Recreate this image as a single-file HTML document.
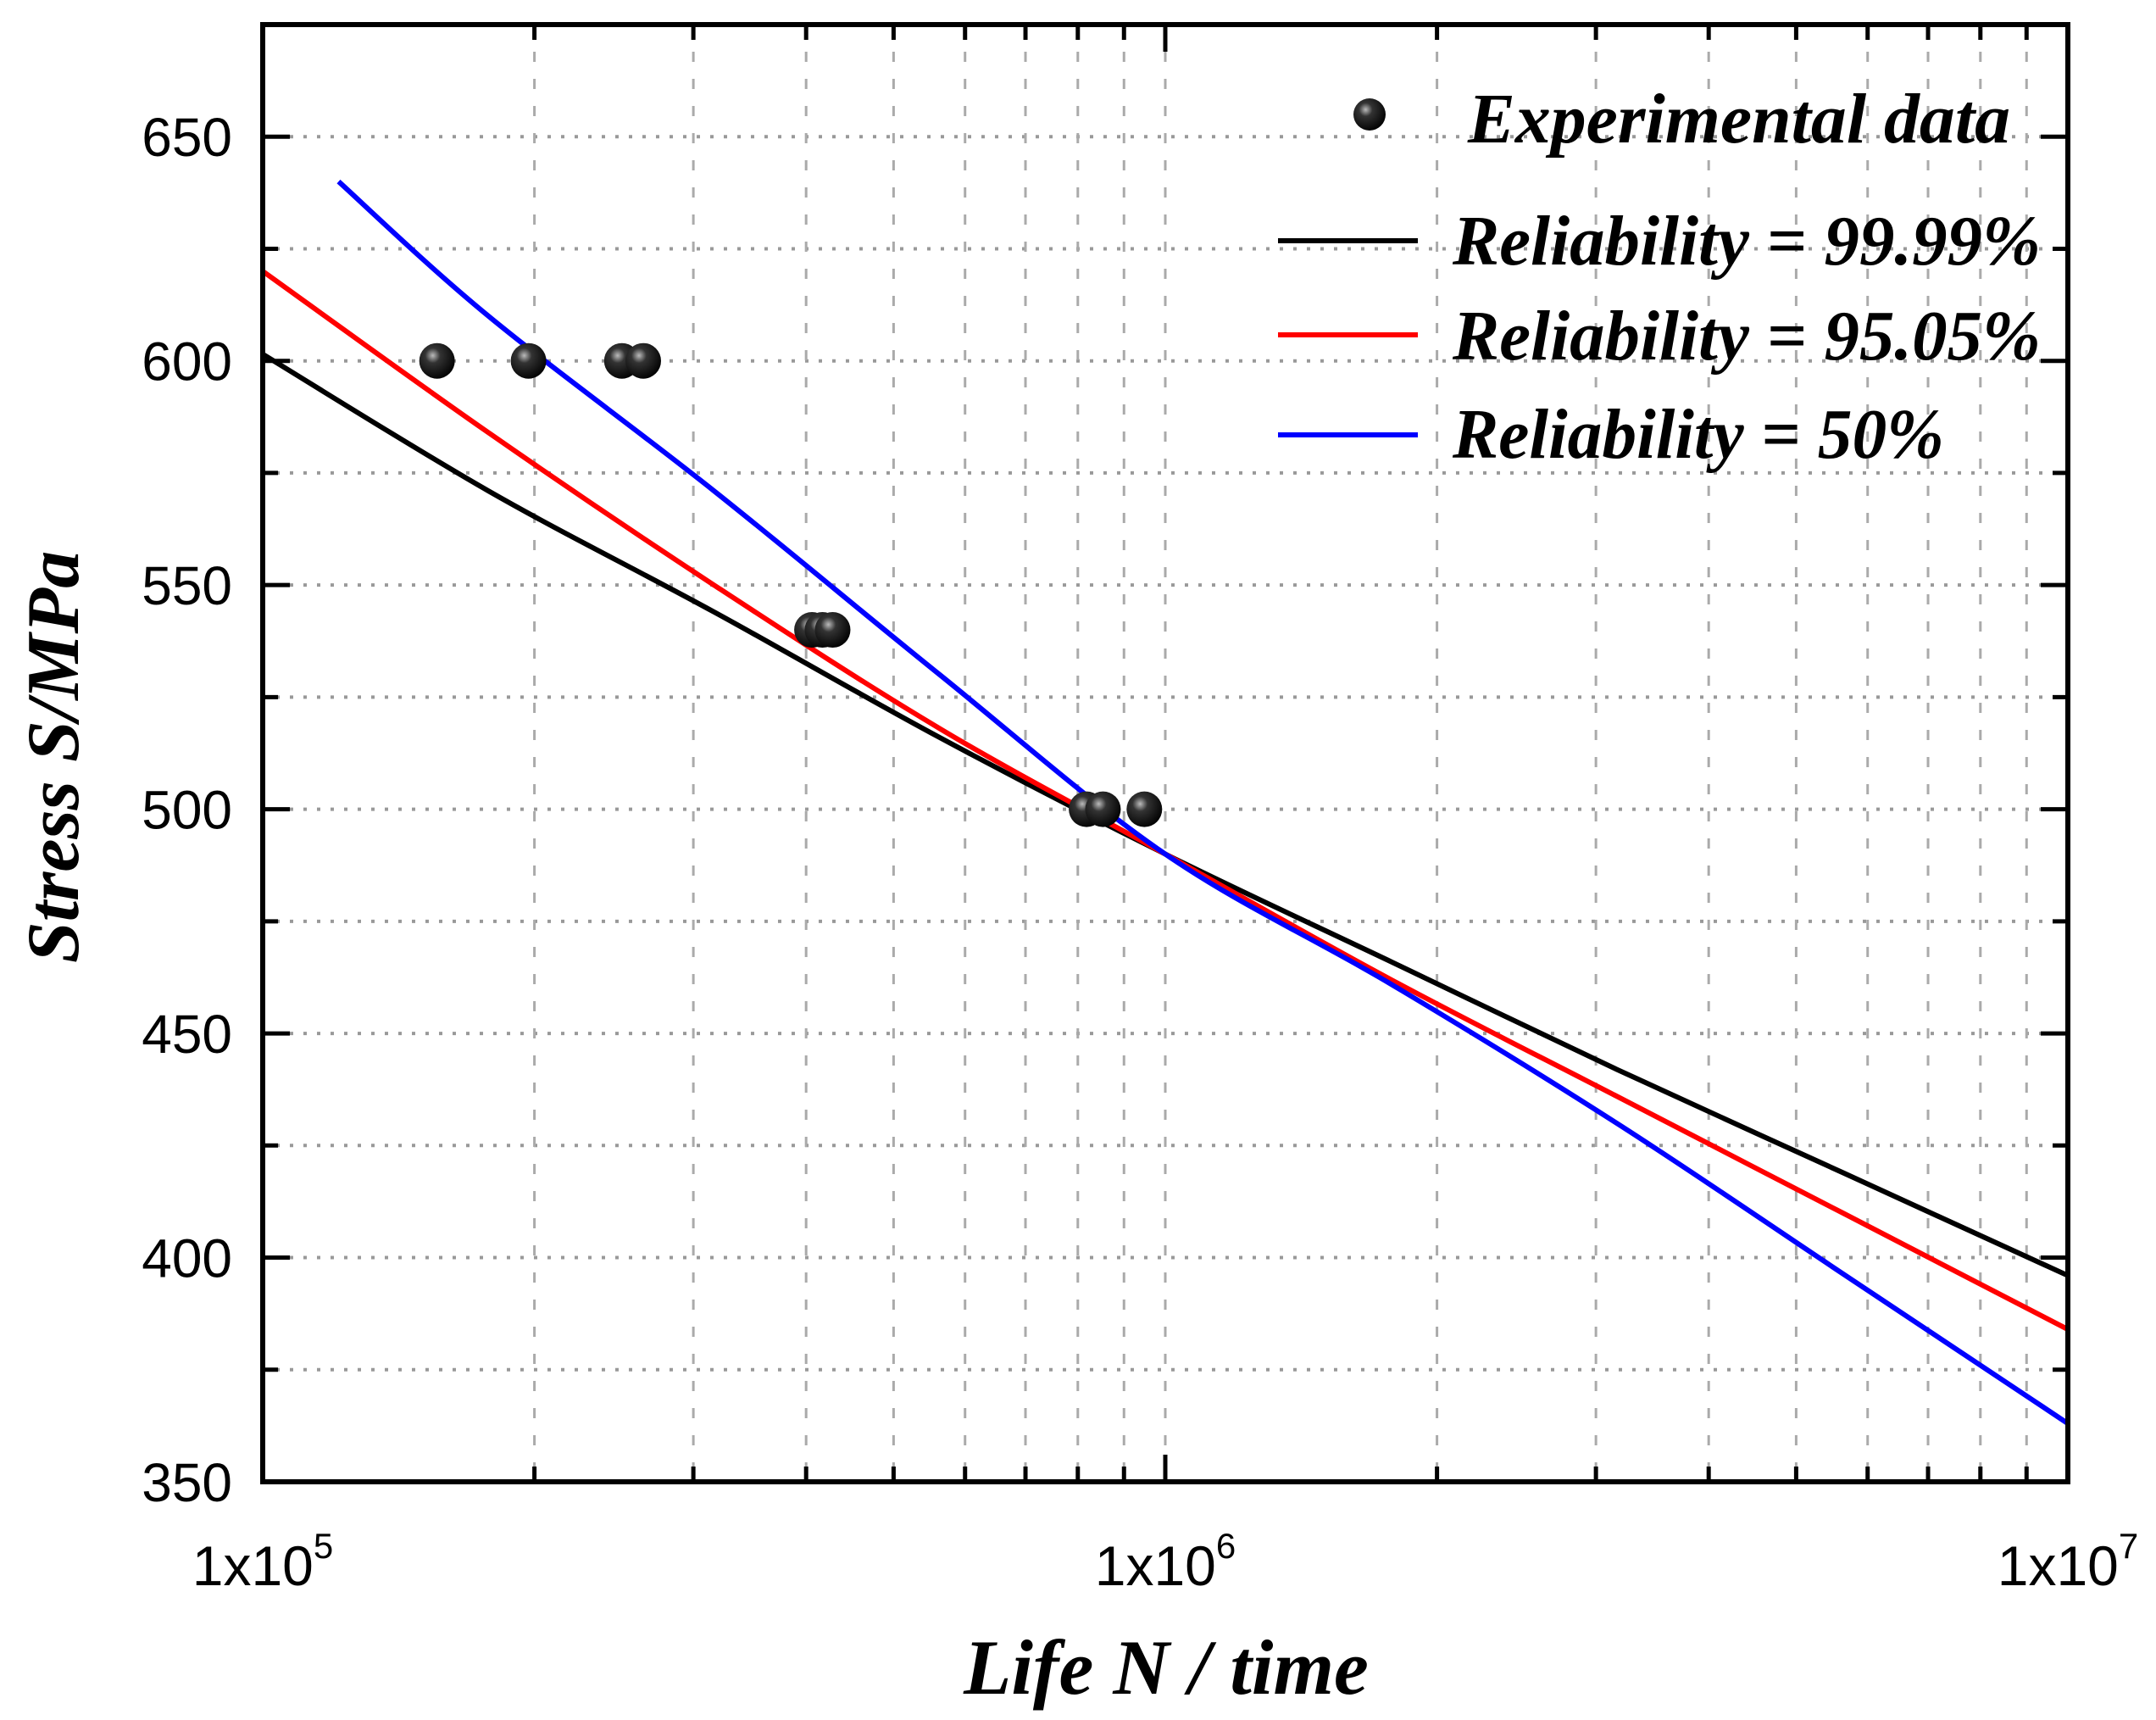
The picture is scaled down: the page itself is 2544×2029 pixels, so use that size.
<!DOCTYPE html>
<html><head><meta charset="utf-8"><style>
html,body{margin:0;padding:0;background:#fff;}
svg{display:block;}
</style></head><body>
<svg id="chart" xmlns="http://www.w3.org/2000/svg" width="2544" height="2029" viewBox="0 0 2544 2029">
<defs>
<radialGradient id="ball" cx="0.38" cy="0.35" r="0.7">
<stop offset="0" stop-color="#bbb"/><stop offset="0.3" stop-color="#333"/><stop offset="1" stop-color="#000"/>
</radialGradient>
</defs>
<g id="grid"></g>
<g id="series"></g>
<g id="points"></g>
<g id="axes"></g>
<g font-family="'Liberation Serif', serif" font-weight="bold" font-style="italic" fill="#000">
  <circle cx="1616" cy="135" r="19" fill="url(#ball)"/>
  <text x="1732" y="168" font-size="84" textLength="640" lengthAdjust="spacingAndGlyphs">Experimental data</text>
  <line x1="1508" y1="284" x2="1673" y2="284" stroke="#000" stroke-width="6"/>
  <text x="1714" y="312" font-size="84" textLength="694" lengthAdjust="spacingAndGlyphs">Reliability = 99.99%</text>
  <line x1="1508" y1="395" x2="1673" y2="395" stroke="#f00" stroke-width="6"/>
  <text x="1714" y="424" font-size="84" textLength="694" lengthAdjust="spacingAndGlyphs">Reliability = 95.05%</text>
  <line x1="1508" y1="513" x2="1673" y2="513" stroke="#00f" stroke-width="6"/>
  <text x="1714" y="540" font-size="84" textLength="580" lengthAdjust="spacingAndGlyphs">Reliability = 50%</text>
</g>
<text x="1376" y="1998" text-anchor="middle" font-family="'Liberation Serif', serif" font-weight="bold" font-style="italic" font-size="92">Life N / time</text>
<text transform="translate(92,893) rotate(-90)" text-anchor="middle" font-family="'Liberation Serif', serif" font-weight="bold" font-style="italic" font-size="88">Stress S/MPa</text>
</svg>
<script>
// data
const curveLogN = [5.0, 5.25, 5.5, 5.75, 6.0, 6.25, 6.5, 6.75, 7.0];
const black9999 = [601.5, 571, 544, 516, 490, 466, 442, 419, 396];
const red9505 = [620, 584, 550, 518, 490, 462, 436, 410, 384];
const blueLogN = [5.084, 5.25, 5.5, 5.75, 6.0, 6.25, 6.5, 6.75, 7.0];
const blue50 = [640, 610, 571, 530, 490, 461, 430, 396.5, 363];
const expN = [156000, 197000, 250000, 264000, 406000, 417000, 428000, 818000, 853000, 948000];
const expS = [600, 600, 600, 600, 540, 540, 540, 500, 500, 500];
const yTicks = [350, 400, 450, 500, 550, 600, 650];
const xTickLabels = ["5", "6", "7"];

const L = 310, R = 2440, T = 29, B = 1748;
const yMin = 350, yMax = 675;
const sx = lg => L + (lg - 5) / 2 * (R - L);
const sy = v => B - (v - yMin) / (yMax - yMin) * (B - T);
const NS = "http://www.w3.org/2000/svg";
function mk(tag, attrs, parent) {
  const e = document.createElementNS(NS, tag);
  for (const k in attrs) e.setAttribute(k, attrs[k]);
  parent.appendChild(e);
  return e;
}
const grid = document.getElementById('grid');
const axes = document.getElementById('axes');
const series = document.getElementById('series');
const pts = document.getElementById('points');

for (let v = 375; v < yMax; v += 25) {
  const g = mk('line', {x1: L, x2: R, y1: sy(v), y2: sy(v), stroke: '#999', 'stroke-width': 4, 'stroke-dasharray': '4 12'}, grid);
  
  
}
for (let d = 5; d < 7; d++) for (let m = 1; m <= 9; m++) {
  const lg = d + Math.log10(m);
  if (lg <= 5) continue;
  const g = mk('line', {x1: sx(lg), x2: sx(lg), y1: T, y2: B, stroke: '#aaa', 'stroke-width': 3, 'stroke-dasharray': '12 20'}, grid);
  
  
}
function drawCurve(xs, vals, color, name) {
  const P = xs.map((lg, i) => [sx(lg), sy(vals[i])]);
  let d = 'M' + P[0][0].toFixed(1) + ' ' + P[0][1].toFixed(1);
  for (let i = 0; i < P.length - 1; i++) {
    const p0 = P[Math.max(0, i - 1)], p1 = P[i], p2 = P[i + 1], p3 = P[Math.min(P.length - 1, i + 2)];
    const c1 = [p1[0] + (p2[0] - p0[0]) / 6, p1[1] + (p2[1] - p0[1]) / 6];
    const c2 = [p2[0] - (p3[0] - p1[0]) / 6, p2[1] - (p3[1] - p1[1]) / 6];
    d += ' C' + c1.map(n => n.toFixed(1)).join(' ') + ' ' + c2.map(n => n.toFixed(1)).join(' ') + ' ' + p2[0].toFixed(1) + ' ' + p2[1].toFixed(1);
  }
  const p = mk('path', {d: d, fill: 'none', stroke: color, 'stroke-width': 6, 'stroke-linejoin': 'round'}, series);
  
  
}
drawCurve(curveLogN, black9999, '#000', 'curve-reliability-9999');
drawCurve(curveLogN, red9505, '#f00', 'curve-reliability-9505');
drawCurve(blueLogN, blue50, '#00f', 'curve-reliability-50');
expN.forEach((n, i) => {
  const c = mk('circle', {cx: sx(Math.log10(n)), cy: sy(expS[i]), r: 21, fill: 'url(#ball)'}, pts);
  
  
});
const fr = mk('rect', {x: L, y: T, width: R - L, height: B - T, fill: 'none', stroke: '#000', 'stroke-width': 6}, axes);


for (let v = 375; v < yMax; v += 25) {
  const major = yTicks.includes(v);
  const len = major ? 32 : 18;
  mk('line', {x1: L, x2: L + len, y1: sy(v), y2: sy(v), stroke: '#000', 'stroke-width': 5}, axes);
  mk('line', {x1: R, x2: R - len, y1: sy(v), y2: sy(v), stroke: '#000', 'stroke-width': 5}, axes);
}
yTicks.forEach(v => {
  const t = mk('text', {x: 274, y: sy(v) + 23, 'text-anchor': 'end', 'font-family': "'Liberation Sans', sans-serif", 'font-size': 64}, axes);
  t.textContent = v;
  
  
});
for (let d = 5; d < 7; d++) for (let m = 2; m <= 9; m++) {
  const x = sx(d + Math.log10(m));
  mk('line', {x1: x, x2: x, y1: B, y2: B - 18, stroke: '#000', 'stroke-width': 5}, axes);
  mk('line', {x1: x, x2: x, y1: T, y2: T + 18, stroke: '#000', 'stroke-width': 5}, axes);
}
xTickLabels.forEach(e => {
  const x = sx(+e);
  mk('line', {x1: x, x2: x, y1: B, y2: B - 32, stroke: '#000', 'stroke-width': 5}, axes);
  mk('line', {x1: x, x2: x, y1: T, y2: T + 32, stroke: '#000', 'stroke-width': 5}, axes);
  const t = mk('text', {x: x, y: 1870, 'text-anchor': 'middle', 'font-family': "'Liberation Sans', sans-serif", 'font-size': 66}, axes);
  t.textContent = '1x10';
  
  
  const s = mk('tspan', {dy: -32, 'font-size': 42}, t);
  s.textContent = e;
});
</script>
</body></html>
